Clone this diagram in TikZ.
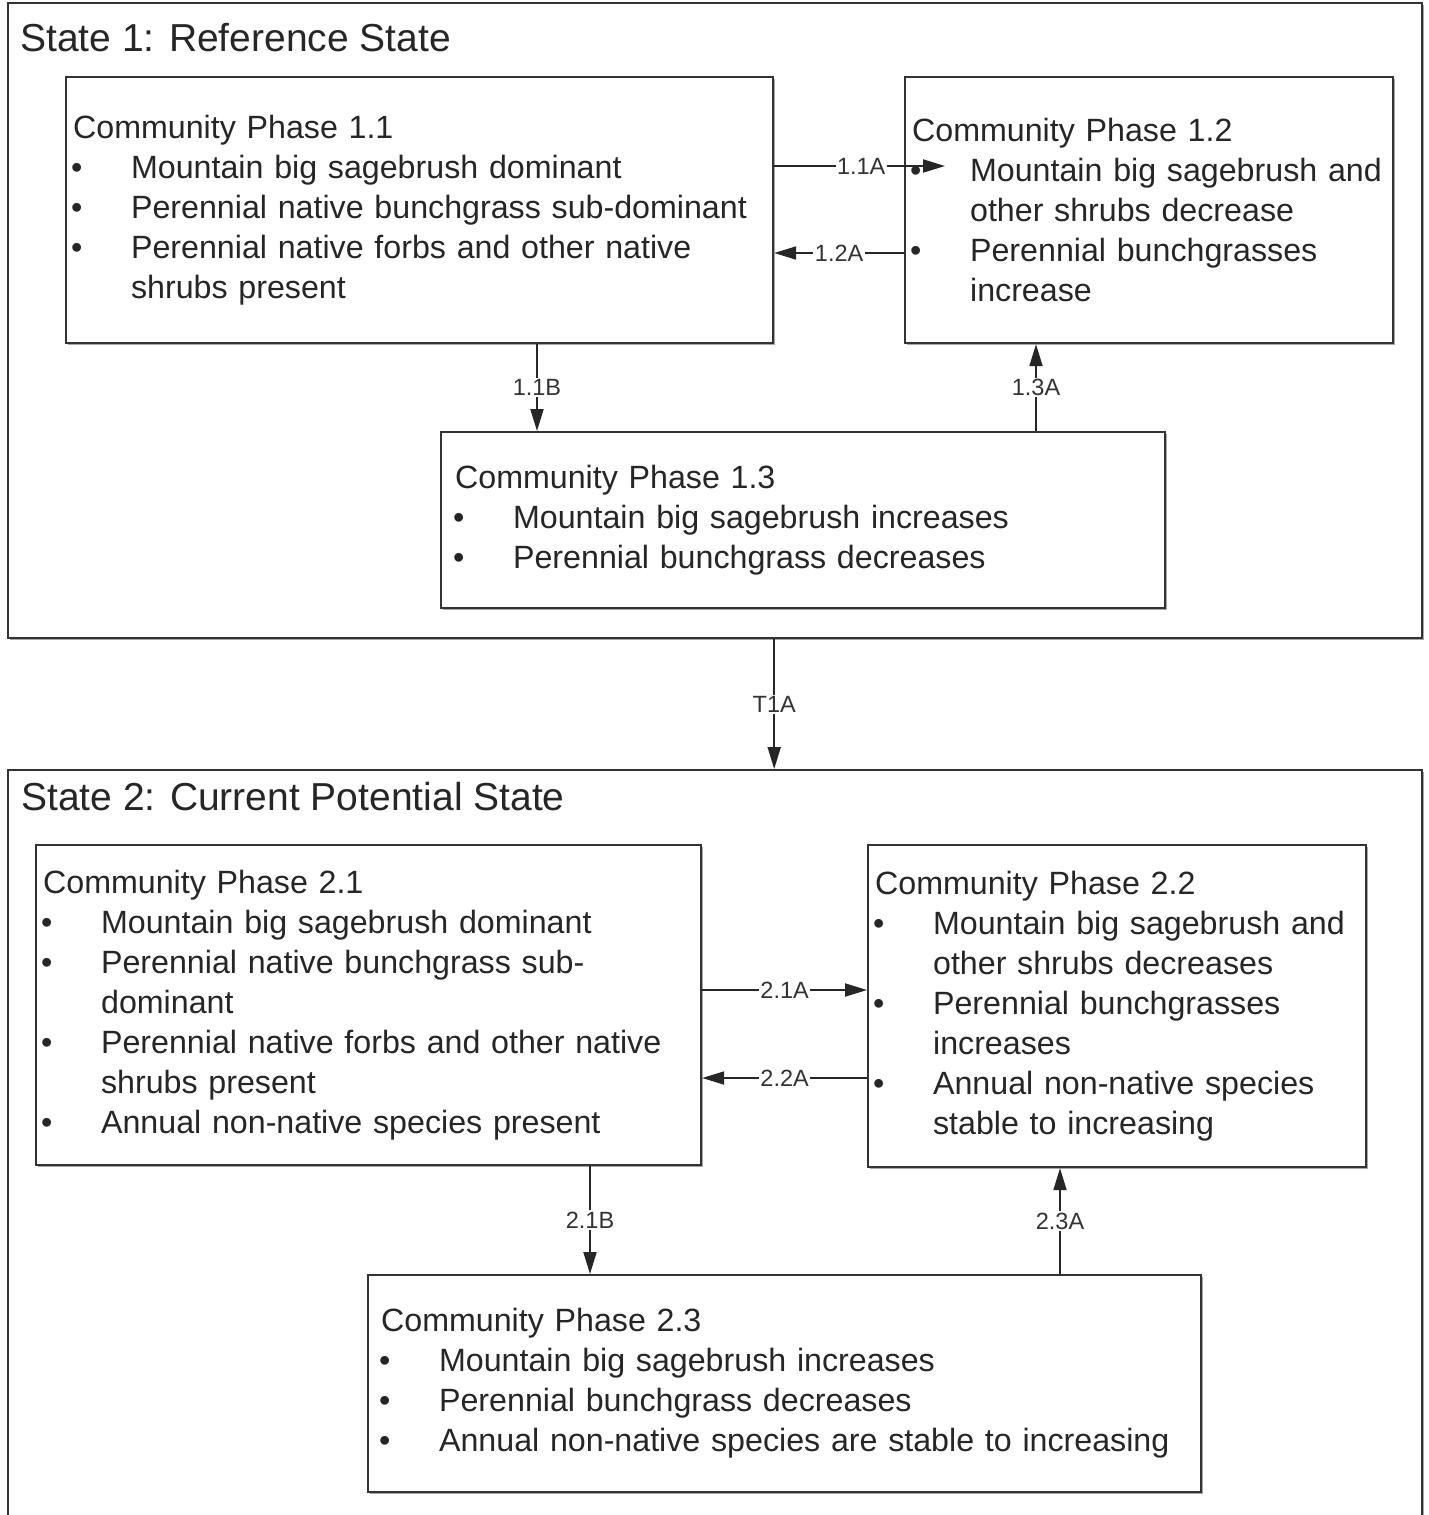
\documentclass[tikz,border=0pt]{standalone}
\usepackage{fontspec}
\setmainfont{Liberation Sans}
\usepackage{tikz}
\usetikzlibrary{arrows.meta}
\usetikzlibrary{shadows}
\tikzset{
    statebox/.style={
        draw=black!80,
        line width=2.2pt,
        fill=white,
        anchor=north west,
        inner sep=0pt,
        drop shadow={shadow xshift=1.5pt, shadow yshift=-1.5pt, opacity=0.35, fill=black}
    },
    phase/.style={
        draw=black!80,
        line width=2.2pt,
        fill=white,
        anchor=north west,
        inner xsep=7pt,
        inner ysep=0pt,
        align=left,
        text=black!85,
        font=\fontsize{32.2}{40}\selectfont,
        drop shadow={shadow xshift=1.5pt, shadow yshift=-1.5pt, opacity=0.35, fill=black}
    },
    title/.style={
        anchor=west,
        inner sep=0pt,
        text=black!85,
        font=\fontsize{39}{46}\selectfont
    },
    tag/.style={
        fill=white,
        inner sep=1.5pt,
        text=black!80,
        font=\fontsize{23.5}{28}\selectfont
    },
    link/.style={
        draw=black!85,
        line width=2pt,
        -{Triangle[length=22pt, width=13pt]}
    }
}
\newcommand{\itm}{\makebox[58pt][l]{\hspace{-2pt}\textbullet}}
\newcommand{\cnt}{\hspace*{58pt}}

\begin{document}
\begin{tikzpicture}[x=1pt, y=-1pt]
  \useasboundingbox (0,0) rectangle (1428,1515);

  % States
  \node[statebox, minimum width=1414pt, minimum height=635pt] (s1) at (7,2) {};
  \node[statebox, minimum width=1414pt, minimum height=760pt] (s2) at (7,769) {};
  \node[title] (t1) at (20,38) {State 1: Reference State};
  \node[title] (t2) at (21,797) {State 2: Current Potential State};

  % Community phases of state 1
  \node[phase, text width=693pt, minimum height=266pt] (p11) at (65,76) {Community Phase 1.1\\
    \itm Mountain big sagebrush dominant\\
    \itm Perennial native bunchgrass sub-dominant\\
    \itm Perennial native forbs and other native\\
    \cnt shrubs present};
  \node[phase, text width=474pt, minimum height=266pt] (p12) at (904,76) {Community Phase 1.2\\
    \itm Mountain big sagebrush and\\
    \cnt other shrubs decrease\\
    \itm Perennial bunchgrasses\\
    \cnt increase};
  \node[phase, inner xsep=14pt, text width=696pt, minimum height=176pt] (p13) at (440,431) {Community Phase 1.3\\
    \itm Mountain big sagebrush increases\\
    \itm Perennial bunchgrass decreases};

  % Community phases of state 2
  \node[phase, text width=651pt, minimum height=320pt] (p21) at (35,844) {Community Phase 2.1\\
    \itm Mountain big sagebrush dominant\\
    \itm Perennial native bunchgrass sub-\\
    \cnt dominant\\
    \itm Perennial native forbs and other native\\
    \cnt shrubs present\\
    \itm Annual non-native species present};
  \node[phase, text width=484pt, minimum height=322pt] (p22) at (867,844) {Community Phase 2.2\\
    \itm Mountain big sagebrush and\\
    \cnt other shrubs decreases\\
    \itm Perennial bunchgrasses\\
    \cnt increases\\
    \itm Annual non-native species\\
    \cnt stable to increasing};
  \node[phase, inner xsep=13pt, text width=807pt, minimum height=217pt] (p23) at (367,1274) {Community Phase 2.3\\
    \itm Mountain big sagebrush increases\\
    \itm Perennial bunchgrass decreases\\
    \itm Annual non-native species are stable to increasing};

  % Pathways across
  \draw[link, shorten >=-41pt] (p11.east |- 0,166) -- node[tag, pos=0.67] {1.1A} (p12.west |- 0,166);
  \foreach \from/\to/\y/\lbl in {p12.west/p11.east/253/1.2A, p21.east/p22.west/990/2.1A, p22.west/p21.east/1078/2.2A}
    \draw[link] (\from |- 0,\y) -- node[tag] {\lbl} (\to |- 0,\y);

  % Pathways down and up
  \foreach \from/\to/\x/\lbl in {p11.south/p13.north/537/1.1B, p13.north/p12.south/1036/1.3A, p21.south/p23.north/590/2.1B, p23.north/p22.south/1060/2.3A}
    \draw[link] (\x,0 |- \from) -- node[tag] {\lbl} (\x,0 |- \to);

  % Transition
  \draw[link] (s1.south -| p11.east) -- node[tag] {T1A} (s2.north -| p11.east);
\end{tikzpicture}
\end{document}
